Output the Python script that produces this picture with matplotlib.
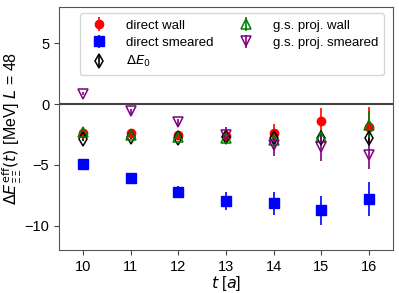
import matplotlib
matplotlib.use("Agg")
import matplotlib.pyplot as plt
import numpy as np

plt.rcParams["font.family"] = ["Liberation Sans", "DejaVu Sans"]
plt.rcParams["mathtext.fontset"] = "dejavusans"

t = np.array([10, 11, 12, 13, 14, 15, 16])

direct_wall = [-2.35, -2.4, -2.5, -2.6, -2.35, -1.4, -1.85]
direct_wall_err = [0.15, 0.15, 0.2, 0.3, 0.7, 1.1, 1.6]
direct_smeared = [-4.95, -6.1, -7.2, -7.98, -8.15, -8.75, -7.8]
direct_smeared_err = [0.2, 0.3, 0.5, 0.74, 0.94, 1.2, 1.4]
de0 = [-2.9, -2.7, -2.75, -2.7, -2.8, -2.8, -2.75]
de0_err = [0.15, 0.15, 0.2, 0.25, 0.3, 0.35, 0.5]
gs_wall = [-2.27, -2.55, -2.7, -2.8, -2.95, -2.7, -1.7]
gs_wall_err = [0.15, 0.15, 0.2, 0.3, 0.4, 0.6, 1.1]
gs_smeared = [0.87, -0.57, -1.5, -2.5, -3.4, -3.55, -4.2]
gs_smeared_err = [0.15, 0.2, 0.3, 0.6, 0.9, 1.1, 1.1]

fig = plt.figure(figsize=(3.99, 2.93), dpi=100)
ax = fig.add_axes([0.148, 0.147, 0.837, 0.829])

ax.axhline(0, color="#444444", lw=1.5, zorder=1)
ax.errorbar(t, direct_wall, yerr=direct_wall_err, fmt="o", color="red",
            ms=6, lw=1.2, label="direct wall")
ax.errorbar(t, direct_smeared, yerr=direct_smeared_err, fmt="s",
            color="blue", ms=6.5, lw=1.2, label="direct smeared")
ax.errorbar(t, de0, yerr=de0_err, fmt="d", color="black", mfc="none",
            ms=7, mew=1.1, lw=1.2, label=r"$\Delta E_0$")
ax.errorbar(t, gs_wall, yerr=gs_wall_err, fmt="^", color="green",
            mfc="none", ms=7, mew=1.1, lw=1.2, label="g.s. proj. wall")
ax.errorbar(t, gs_smeared, yerr=gs_smeared_err, fmt="v", color="purple",
            mfc="none", ms=7, mew=1.1, lw=1.2, label="g.s. proj. smeared")

ax.set_xlim(9.5, 16.5)
ax.set_ylim(-12, 8)
ax.set_xticks(t)
ax.set_yticks([-10, -5, 0, 5])
ax.set_yticklabels(["\u221210", "\u22125", "0", "5"])
ax.tick_params(labelsize=10.5, color="#444444", length=3.5)
for sp in ax.spines.values():
    sp.set_color("#555555")
ax.set_xlabel(r"$t$ [$a$]", fontsize=11.5, labelpad=0)
ax.set_ylabel(r"$\Delta E^{\rm eff}_{\Xi\Xi}(t)$ [MeV] $L$ = 48",
              fontsize=11.5, labelpad=0)
ax.legend(ncol=2, fontsize=9.5, loc="upper right",
          bbox_to_anchor=(0.985, 0.99), handletextpad=1.0,
          columnspacing=1.5, borderpad=0.45, labelspacing=0.4,
          borderaxespad=0.3)

fig.savefig("out.png", dpi=100)
